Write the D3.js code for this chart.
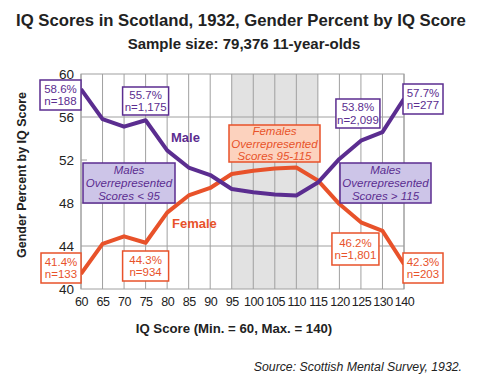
<!DOCTYPE html>
<html><head><meta charset="utf-8">
<script src="https://cdn.jsdelivr.net/npm/d3@7"></script>
<style>body{margin:0;background:#fff}svg{display:block;font-family:"Liberation Sans",Arial,sans-serif}</style>
</head><body><svg id="c" width="479" height="378"></svg>
<script>
const categories = ["60","65","70","75","80","85","90","95","100","105","110","115","120","125","130","140"];
const male   = [58.6,55.8,55.1,55.7,52.9,51.3,50.6,49.3,49.0,48.8,48.7,49.9,52.1,53.8,54.6,57.7];
const female = [41.4,44.2,44.9,44.3,47.1,48.7,49.4,50.7,51.0,51.2,51.3,50.1,47.9,46.2,45.4,42.3];
const yTicks = [40,44,48,52,56,60];
const gridValues = [44,48,56];
const shadeRange = ["95","115"];
const maleLabels = [{cat:"60",t1:"58.6%",t2:"n=188"},{cat:"75",t1:"55.7%",t2:"n=1,175"},{cat:"125",t1:"53.8%",t2:"n=2,099"},{cat:"140",t1:"57.7%",t2:"n=277"}];
const femaleLabels = [{cat:"60",t1:"41.4%",t2:"n=133"},{cat:"75",t1:"44.3%",t2:"n=934"},{cat:"125",t1:"46.2%",t2:"n=1,801"},{cat:"140",t1:"42.3%",t2:"n=203"}];

const PURPLE="#5b2d90", ORANGE="#e8522a";
const svg=d3.select("#c");
const L=81,R=404,T=74,B=289;
const x=d3.scalePoint().domain(categories).range([L,R]);
const y=d3.scaleLinear().domain([40,60]).range([B,T]);

svg.append("rect").attr("x",x(shadeRange[0])).attr("y",T).attr("width",x(shadeRange[1])-x(shadeRange[0])).attr("height",B-T).attr("fill","#e2e2e2");
svg.append("g").selectAll("line").data(categories).join("line")
  .attr("x1",d=>x(d)).attr("x2",d=>x(d)).attr("y1",T).attr("y2",B).attr("stroke","#a0a0a0").attr("stroke-width",1);
svg.append("g").selectAll("line").data(gridValues).join("line")
  .attr("x1",L).attr("x2",R).attr("y1",d=>y(d)).attr("y2",d=>y(d)).attr("stroke","#a0a0a0");
svg.append("line").attr("x1",L).attr("x2",L+6).attr("y1",y(52)).attr("y2",y(52)).attr("stroke","#a0a0a0");
svg.append("rect").attr("x",L).attr("y",T).attr("width",R-L).attr("height",B-T).attr("fill","none").attr("stroke","#a0a0a0");

const ya=d3.axisLeft(y).tickValues(yTicks).tickSize(0).tickPadding(7);
svg.append("g").attr("transform",`translate(${L},0)`).call(ya).call(g=>{g.select(".domain").remove();g.selectAll("text").attr("font-size",13.5).attr("fill","#222").attr("font-family","Liberation Sans, Arial")});
const xa=d3.axisBottom(x).tickSize(0).tickPadding(8);
svg.append("g").attr("transform",`translate(0,${B})`).call(xa).call(g=>{g.select(".domain").remove();g.selectAll("text").attr("font-size",12.5).attr("fill","#222").attr("font-family","Liberation Sans, Arial").attr("letter-spacing","-0.5")});

const line=d3.line().x((d,i)=>x(categories[i])).y(d=>y(d));
svg.append("path").datum(female).attr("d",line).attr("fill","none").attr("stroke",ORANGE).attr("stroke-width",4).attr("stroke-linejoin","round");
svg.append("path").datum(male).attr("d",line).attr("fill","none").attr("stroke",PURPLE).attr("stroke-width",4).attr("stroke-linejoin","round");

function box(x0,y0,w,h,fill,stroke,lines,color,fs,italic){
  svg.append("rect").attr("x",x0).attr("y",y0).attr("width",w).attr("height",h).attr("fill",fill).attr("stroke",stroke).attr("stroke-width",1.5);
  const lh=fs*1.12, cy=y0+h/2-(lines.length-1)*lh/2;
  lines.forEach((t,i)=>svg.append("text").attr("x",x0+w/2).attr("y",cy+i*lh).attr("dy","0.35em").attr("text-anchor","middle")
    .attr("font-size",fs).attr("fill",color).attr("font-style",italic?"italic":"normal").text(t));
}
const mPos={"60":[-41,80,41,30],"75":[-23,87,46,28],"125":[-25,99,44,29],"140":[-1,84,40,30]};
const fPos={"60":[-40,253,40,30],"75":[-23,251,46,30],"125":[-29,233,47,32],"140":[-1,253,40,30]};
maleLabels.forEach(d=>{const p=mPos[d.cat];box(x(d.cat)+p[0],p[1],p[2],p[3],"#fff",PURPLE,[d.t1,d.t2],PURPLE,11.5,false);});
femaleLabels.forEach(d=>{const p=fPos[d.cat];box(x(d.cat)+p[0],p[1],p[2],p[3],"#fff",ORANGE,[d.t1,d.t2],ORANGE,11.5,false);});

box(229,125,91,37,"#fcd2be",ORANGE,["Females","Overrepresented","Scores 95-115"],ORANGE,11.5,true);
box(83,163,92,40,"#cdc5e8",PURPLE,["Males","Overrepresented","Scores < 95"],PURPLE,11.5,true);
box(340,163,91,40,"#cdc5e8",PURPLE,["Males","Overrepresented","Scores > 115"],PURPLE,11.5,true);

svg.append("text").attr("x",171).attr("y",137).attr("dy","0.35em").attr("font-size",13).attr("font-weight","bold").attr("fill",PURPLE).text("Male");
svg.append("text").attr("x",172).attr("y",223).attr("dy","0.35em").attr("font-size",13).attr("font-weight","bold").attr("fill",ORANGE).text("Female");

svg.append("text").attr("x",241).attr("y",26).attr("text-anchor","middle").attr("font-size",16.7).attr("font-weight","bold").attr("fill","#222").text("IQ Scores in Scotland, 1932, Gender Percent by IQ Score");
svg.append("text").attr("x",244).attr("y",49).attr("text-anchor","middle").attr("font-size",15).attr("font-weight","bold").attr("fill","#222").text("Sample size: 79,376 11-year-olds");
svg.append("text").attr("transform","translate(26,175) rotate(-90)").attr("text-anchor","middle").attr("font-size",12.5).attr("font-weight","bold").attr("fill","#222").text("Gender Percent by IQ Score");
svg.append("text").attr("x",234).attr("y",333).attr("text-anchor","middle").attr("font-size",13.2).attr("font-weight","bold").attr("fill","#222").text("IQ Score (Min. = 60, Max. = 140)");
svg.append("text").attr("x",462).attr("y",371).attr("text-anchor","end").attr("font-size",12.3).attr("font-style","italic").attr("fill","#222").text("Source: Scottish Mental Survey, 1932.");
</script></body></html>
